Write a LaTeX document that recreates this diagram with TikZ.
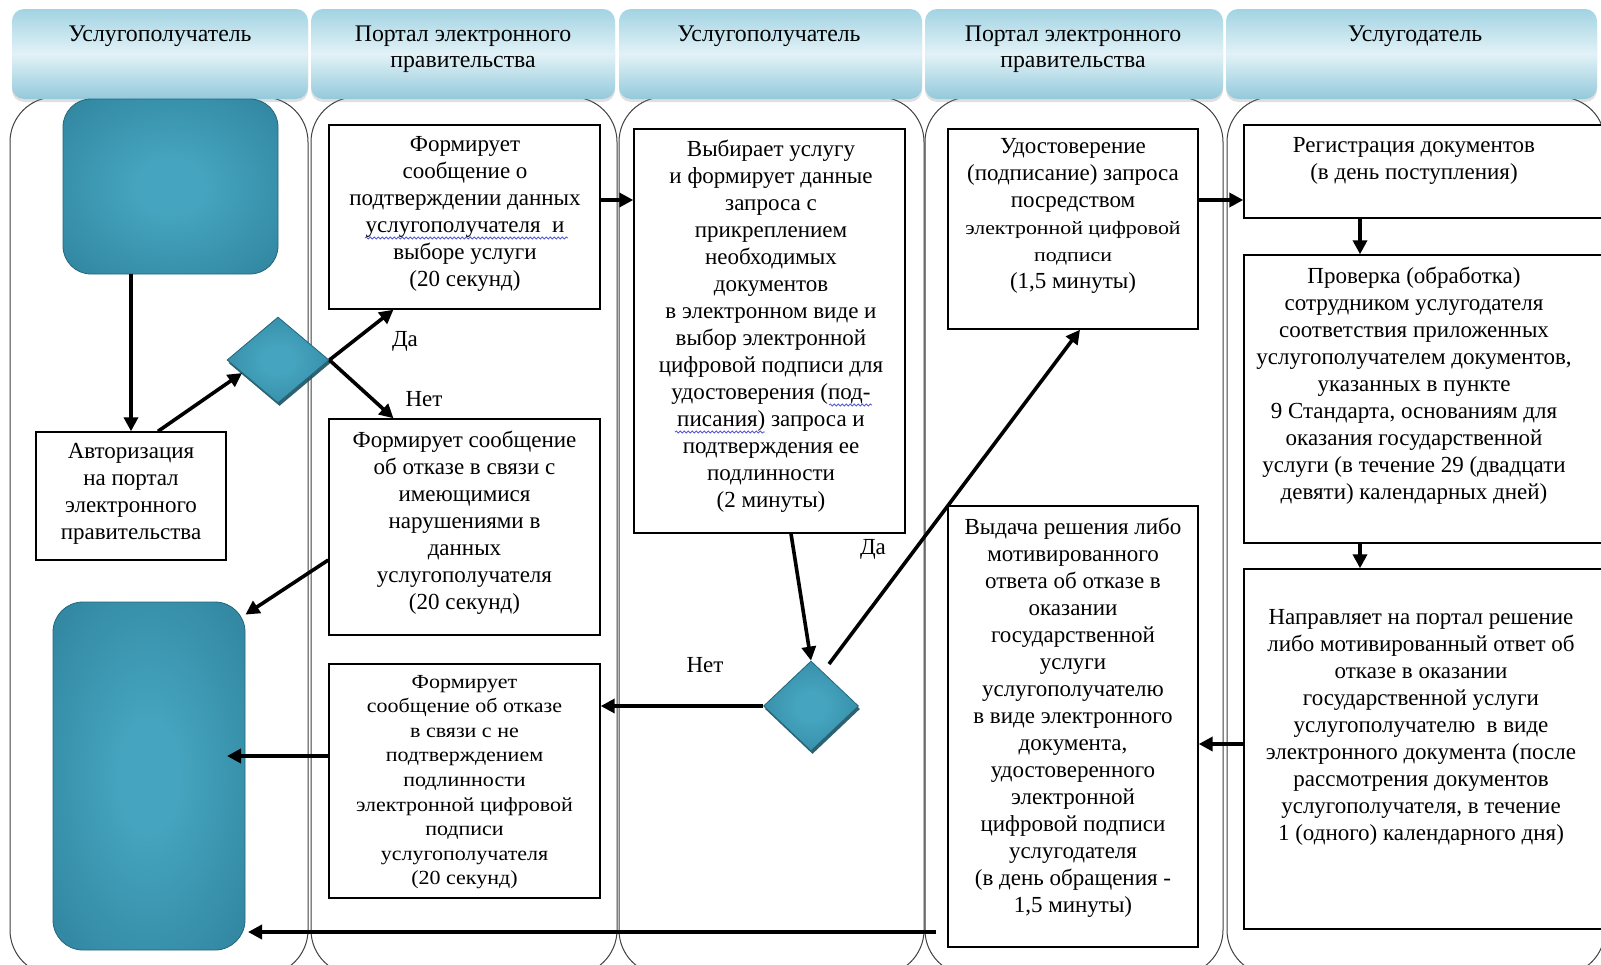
\documentclass[tikz,border=0pt]{standalone}
\usepackage{fontspec}
\setmainfont{Liberation Serif}
\newfontfamily\tnr{Liberation Serif}
\newfontfamily\tnrw{Liberation Serif}[FakeStretch=1.1]
\newfontfamily\tnrww{Liberation Serif}[FakeStretch=1.15]
\usetikzlibrary{shapes.geometric,arrows.meta,calc,shadows,decorations.pathmorphing}

\definecolor{tealL}{HTML}{45A4BF}
\definecolor{tealD}{HTML}{2A7B94}
\definecolor{tealB}{HTML}{22677C}
\definecolor{tealS}{HTML}{1B4F60}
\definecolor{hdrT}{HTML}{A2D3E3}
\definecolor{hdrM}{HTML}{E2F2F7}
\definecolor{hdrB}{HTML}{93C9DB}
\definecolor{laneC}{HTML}{404040}
\definecolor{spell}{HTML}{5A5AD0}

\pgfdeclareradialshading{tealglow}{\pgfpoint{0bp}{0bp}}{color(0bp)=(tealL); color(8bp)=(tealL); color(44bp)=(tealD); color(75bp)=(tealD)}

\tikzset{
  lane/.style={draw=laneC, line width=1pt, rounded corners=45pt, inner sep=0pt, fill=white},
  hdr/.style={rounded corners=12pt, top color=hdrT, bottom color=hdrB, middle color=hdrM, inner sep=0pt,
              drop shadow={shadow xshift=0pt, shadow yshift=-3pt, opacity=0.25}},
  hdrtxt/.style={align=center, font=\tnr\fontsize{23.8}{25.5}\selectfont, inner sep=0pt},
  tealbox/.style={shading=tealglow, draw=tealB, line width=0.8pt, inner sep=0pt},
  dia/.style={shape=diamond, shading=tealglow, draw=tealB, line width=0.8pt, inner sep=0pt,
              drop shadow={shadow xshift=1.5pt, shadow yshift=-3pt, fill=tealS, opacity=0.9}},
  box/.style={draw=black, line width=1.4pt, fill=white, inner sep=0pt},
  txt/.style={align=center, font=\tnr\fontsize{23}{27}\selectfont, inner sep=0pt},
  stxt/.style={align=center, font=\tnrw\fontsize{20}{24.6}\selectfont, inner sep=0pt},
  lbl/.style={font=\tnr\fontsize{23}{27}\selectfont, inner sep=0pt},
  arr/.style={line width=3.6pt, -{Triangle[length=14pt,width=14pt]}},
  wavy/.style={draw=spell, line width=0.8pt, decorate, decoration={snake, amplitude=1.1pt, segment length=4pt}},
}

\begin{document}
\begin{tikzpicture}[x=1pt,y=-1pt]
\useasboundingbox (0,0) rectangle (1601,964);
\clip (0,0) rectangle (1601,964);

% lanes
\node[lane, minimum width=298, minimum height=878] (L1) at (159,536) {};
\node[lane, minimum width=306, minimum height=878] (L2) at (464,536) {};
\node[lane, minimum width=305, minimum height=878] (L3) at (771.5,536) {};
\node[lane, minimum width=298, minimum height=878] (L4) at (1074,536) {};
\node[lane, minimum width=378, minimum height=878] (L5) at (1416,536) {};

% header tabs
\node[hdr, minimum width=296, minimum height=90] (h1) at (160,54) {};
\node[hdr, minimum width=304, minimum height=90] (h2) at (463,54) {};
\node[hdr, minimum width=303, minimum height=90] (h3) at (770.5,54) {};
\node[hdr, minimum width=298, minimum height=90] (h4) at (1074,54) {};
\node[hdr, minimum width=371, minimum height=90] (h5) at (1411.5,54) {};
\node[hdrtxt] (h1t) at (160,36) {Услугополучатель};
\node[hdrtxt] (h2t) at (463,49) {Портал электронного\\правительства};
\node[hdrtxt] (h3t) at (769,36) {Услугополучатель};
\node[hdrtxt] (h4t) at (1073,49) {Портал электронного\\правительства};
\node[hdrtxt] (h5t) at (1415,36) {Услугодатель};

% teal terminals and diamonds
\node[tealbox, rounded corners=28pt, minimum width=215, minimum height=175] (e1) at (170.5,186.5) {};
\node[tealbox, rounded corners=30pt, minimum width=192, minimum height=348] (e2) at (149,776) {};
\node[dia, minimum width=102, minimum height=86] (d1) at (278,360) {};
\node[dia, minimum width=95, minimum height=90] (d2) at (811,706) {};

% boxes
\node[box, minimum width=190, minimum height=128] (b2) at (131,496) {};
\node[txt] (b2t) at (131,493.5) {Авторизация\\на портал\\электронного\\правительства};

\node[box, minimum width=271, minimum height=184] (b5) at (464.5,217) {};
\node[txt] (b5t) at (465,214) {Формирует\\сообщение о\\подтверждении данных\\услугополучателя\ \ и\\выборе услуги\\(20 секунд)};

\node[box, minimum width=271, minimum height=216] (b6) at (464.5,527) {};
\node[txt] (b6t) at (464.5,523) {Формирует сообщение\\об отказе в связи с\\имеющимися\\нарушениями в\\данных\\услугополучателя\\(20 секунд)};

\node[box, minimum width=271, minimum height=234] (b7) at (464.5,781) {};
\node[stxt] (b7t) at (464.5,782) {Формирует\\сообщение об отказе\\в связи с не\\подтверждением\\подлинности\\электронной цифровой\\подписи\\услугополучателя\\(20 секунд)};

\node[box, minimum width=271, minimum height=404] (b8) at (769.5,331) {};
\node[txt] (b8t) at (771,326.5) {Выбирает услугу\\и формирует данные\\запроса с\\прикреплением\\необходимых\\документов\\в электронном виде и\\выбор электронной\\цифровой подписи для\\удостоверения (под-\\писания) запроса и\\подтверждения ее\\подлинности\\(2 минуты)};

\node[box, minimum width=250, minimum height=200] (b10) at (1073,229) {};
\node[txt] (b10t) at (1073,216) {Удостоверение\\(подписание) запроса\\посредством\\{\tnrww\fontsize{19}{24}\selectfont электронной цифровой}\\{\tnrww\fontsize{19}{24}\selectfont подписи}\\(1,5 минуты)};

\node[box, minimum width=250, minimum height=441] (b11) at (1073,726.5) {};
\node[txt] (b11t) at (1073,718) {Выдача решения либо\\мотивированного\\ответа об отказе в\\оказании\\государственной\\услуги\\услугополучателю\\в виде электронного\\документа,\\удостоверенного\\электронной\\цифровой подписи\\услугодателя\\(в день обращения -\\1,5 минуты)};

\node[box, minimum width=364, minimum height=93] (b12) at (1426,171.5) {};
\node[txt] (b12t) at (1414,161) {Регистрация документов\\(в день поступления)};

\node[box, minimum width=364, minimum height=288] (b13) at (1426,399) {};
\node[txt] (b13t) at (1414,386) {Проверка (обработка)\\сотрудником услугодателя\\соответствия приложенных\\услугополучателем документов,\\указанных в пункте\\9 Стандарта, основаниям для\\оказания государственной\\услуги (в течение 29 (двадцати\\девяти) календарных дней)};

\node[box, minimum width=364, minimum height=360] (b14) at (1426,749) {};
\node[txt] (b14t) at (1421,727) {Направляет на портал решение\\либо мотивированный ответ об\\отказе в оказании\\государственной услуги\\услугополучателю\ \ в виде\\электронного документа (после\\рассмотрения документов\\услугополучателя, в течение\\1 (одного) календарного дня)};

% spell-check underlines
\draw[wavy] (365,238) -- (568,238);
\draw[wavy] (829,405) -- (872,405);
\draw[wavy] (675,432) -- (765,432);

% labels
\node[lbl] (l1) at (405,341) {Да};
\node[lbl] (l2) at (424,399) {Нет};
\node[lbl] (l3) at (873,549) {Да};
\node[lbl] (l4) at (705,665) {Нет};

% connectors
\draw[arr] (e1.south -| b2.north) -- (b2.north);
\coordinate (d1in) at ($(d1.west)!0.3!(d1.south)$);
\draw[arr] ([xshift=27pt]b2.north) -- (d1in);
\draw[arr] (d1.east) -- ([xshift=-71pt]b5.south);
\draw[arr] (d1.east) -- ([xshift=-71pt]b6.north);
\draw[arr] ([yshift=-33pt]b6.west) -- ([yshift=-13pt]e2.north east);
\coordinate (e2r) at (227,756);
\draw[arr] ([yshift=25pt]b7.west) -- (e2r);
\coordinate (p7) at ([yshift=17pt]b5.east);
\draw[arr] (p7) -- (p7 -| b8.west);
\draw[arr] ([xshift=21.5pt]b8.south) -- (d2.north);
\coordinate (d2a) at (829,664);
\draw[arr] (d2a) -- ([xshift=7pt]b10.south);
\draw[arr] (d2.west) -- (d2.west -| b7.east);
\coordinate (p11) at ([yshift=29pt]b10.east);
\draw[arr] (p11) -- (p11 -| b12.west);
\coordinate (p12) at ([xshift=-66pt]b12.south);
\draw[arr] (p12) -- (p12 |- b13.north);
\coordinate (p13) at ([xshift=-66pt]b13.south);
\draw[arr] (p13) -- (p13 |- b14.north);
\coordinate (p14) at ([yshift=5pt]b14.west);
\draw[arr] (p14) -- (p14 -| b11.east);
\coordinate (p15) at ([xshift=-11pt,yshift=-205.5pt]b11.west);
\coordinate (e2b) at (248,932);
\draw[arr] (p15) -- (e2b);
\end{tikzpicture}
\end{document}
